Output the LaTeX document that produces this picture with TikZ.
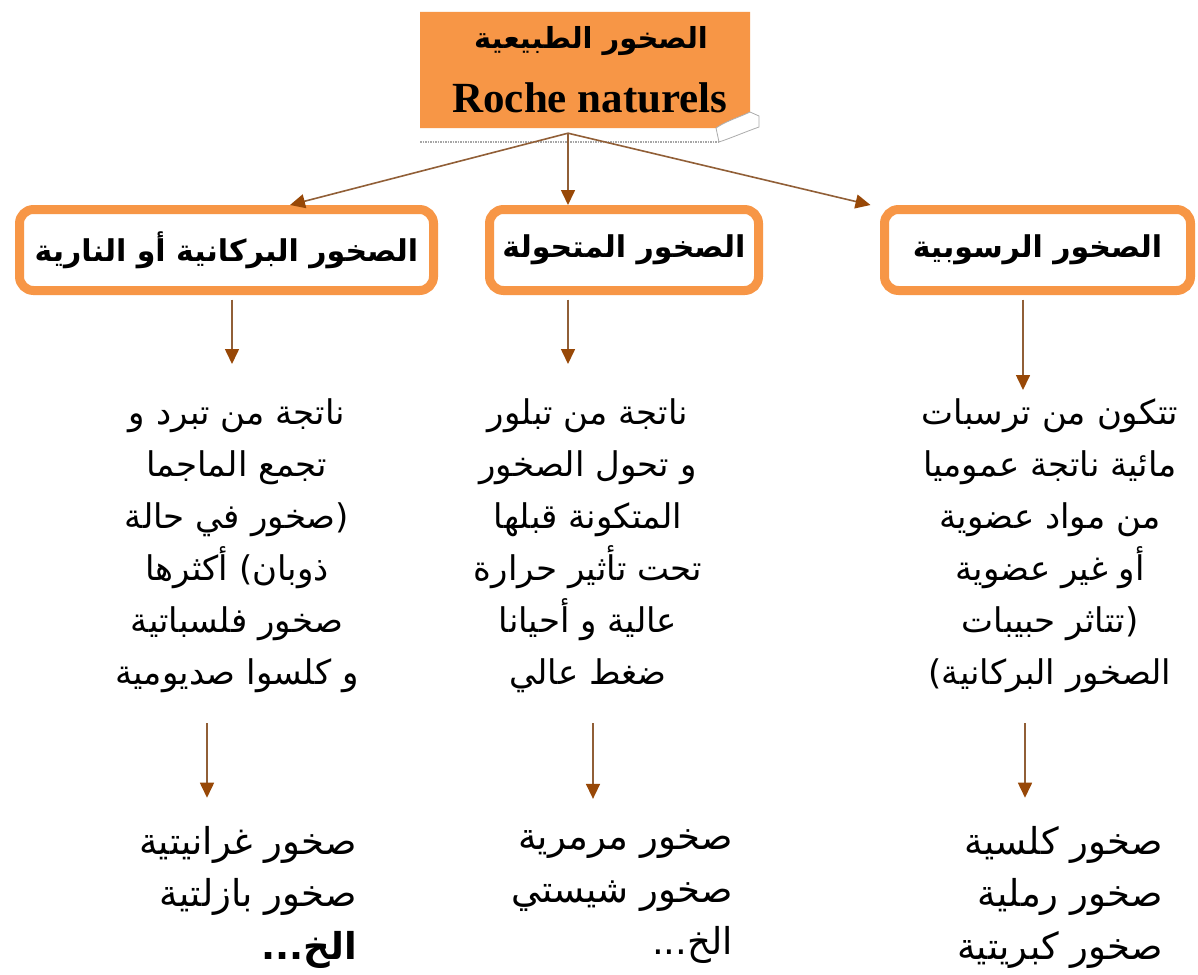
\documentclass[tikz,border=0pt]{standalone}
\usepackage{fontspec}
\usetikzlibrary{arrows.meta}
\TeXXeTstate=1
\newfontfamily\arabicfont[Script=Arabic]{DejaVu Sans}
\newfontfamily\latinserif{Liberation Serif}
\definecolor{org}{RGB}{247,150,70}
\definecolor{linebrown}{RGB}{145,95,55}
\definecolor{tipbrown}{RGB}{152,72,7}
\newcommand{\arline}[1]{\beginR #1\endR}

\begin{document}
\begin{tikzpicture}[x=1pt,y=-1pt,
  arr/.style={draw=linebrown, line width=1.6pt,
    -{Triangle[length=15pt,width=14pt,fill=tipbrown,color=tipbrown]}},
  hdr/.style={draw=org, line width=9pt, rounded corners=14pt, fill=white,
    inner sep=0, minimum height=81pt,
    font=\arabicfont\bfseries\fontsize{30}{36}\selectfont},
  body/.style={align=center, inner sep=0,
    font=\arabicfont\fontsize{34}{52}\selectfont},
  tail/.style={align=right, inner sep=0, anchor=east,
    font=\arabicfont\fontsize{37}{52.5}\selectfont},
]
\useasboundingbox (0,0) rectangle (1198,974);
\fill[white] (0,0) rectangle (1198,974);

% title sheet with curled corner and dotted shadow edge
\fill[org] (420,12) -- (750,12) -- (750,112)
  .. controls (740,117) and (726,121) .. (716,128) -- (420,128) -- cycle;
\filldraw[fill=white, draw=gray!65, line width=0.8pt]
  (716,128) .. controls (726,121) and (740,117) .. (750,112)
  -- (759,116) -- (759,127) .. controls (745,132) and (731,138) .. (719,142) -- cycle;
\draw[gray!70, line width=1.5pt, densely dotted] (420,142) -- (719,142);
\node[minimum width=330pt, minimum height=126pt, inner sep=0] (top) at (585,70) {};
\node[font=\arabicfont\bfseries\fontsize{29}{35}\selectfont, inner sep=0] (topAr) at (591,41)
  {\arline{الصخور الطبيعية}};
\node[font=\latinserif\bfseries\fontsize{43}{50}\selectfont, inner sep=0, anchor=base] (topFr) at (590,112)
  {Roche naturels};

% three family headers
\node[hdr, minimum width=414pt] (hL) at (226.5,250) {\arline{الصخور البركانية أو النارية}};
\node[hdr, minimum width=269pt] (hM) at (624,250) {\arline{الصخور المتحولة}};
\node[hdr, minimum width=306pt] (hR) at (1037.5,250) {\arline{الصخور الرسوبية}};
\foreach \n in {hL,hM,hR}
  \draw[org, line width=1.5pt, rounded corners=8pt]
    ([shift={(8pt,8pt)}]\n.south west) rectangle ([shift={(-8pt,-8pt)}]\n.north east);

% descriptions
\node[body] (bL) at (237,546) {%
  \arline{ناتجة من تبرد و}\\
  \arline{تجمع الماجما}\\
  \arline{(صخور في حالة}\\
  \arline{ذوبان) أكثرها}\\
  \arline{صخور فلسباتية}\\
  \arline{و كلسوا صديومية}};
\node[body] (bM) at (588,546) {%
  \arline{ناتجة من تبلور}\\
  \arline{و تحول الصخور}\\
  \arline{المتكونة قبلها}\\
  \arline{تحت تأثير حرارة}\\
  \arline{عالية و أحيانا}\\
  \arline{ضغط عالي}};
\node[body] (bR) at (1050,546) {%
  \arline{تتكون من ترسبات}\\
  \arline{مائية ناتجة عموميا}\\
  \arline{من مواد عضوية}\\
  \arline{أو غير عضوية}\\
  \arline{(تتاثر حبيبات}\\
  \arline{الصخور البركانية)}};

% examples
\node[tail] (eL) at (357,897) {%
  \arline{صخور غرانيتية}\\
  \arline{صخور بازلتية}\\
  \textbf{\arline{الخ...}}};
\node[tail] (eM) at (733,897) {%
  \arline{صخور مرمرية}\\
  \arline{صخور شيستي}\\
  \arline{الخ...}};
\node[tail] (eR) at (1163,897) {%
  \arline{صخور كلسية}\\
  \arline{صخور رملية}\\
  \arline{صخور كبريتية}};

% connectors
\coordinate (tL) at (232,364);
\coordinate (tM) at (568,364);
\coordinate (tR) at (1023,390);
\coordinate (cL) at (207,0);
\coordinate (cM) at (593,0);
\coordinate (cR) at (1025,0);

\draw[arr] ([xshift=-17pt]top.south) -- ([xshift=63.5pt]hL.north);
\draw[arr] ([xshift=-17pt]top.south) -- ([xshift=-56pt]hM.north);
\draw[arr] ([xshift=-17pt]top.south) -- ([xshift=-9.5pt]hR.north west);

\draw[arr, shorten <=4.5pt] (hL.south -| tL) -- (tL);
\draw[arr, shorten <=4.5pt] (hM.south -| tM) -- (tM);
\draw[arr, shorten <=4.5pt] (hR.south -| tR) -- (tR);

\draw[arr, shorten <=30pt, shorten >=28pt] (bL.south -| cL) -- (eL.north -| cL);
\draw[arr, shorten <=30pt, shorten >=31pt] (bM.south -| cM) -- (eM.north -| cM);
\draw[arr, shorten <=30pt, shorten >=28pt] (bR.south -| cR) -- (eR.north -| cR);
\end{tikzpicture}
\end{document}
